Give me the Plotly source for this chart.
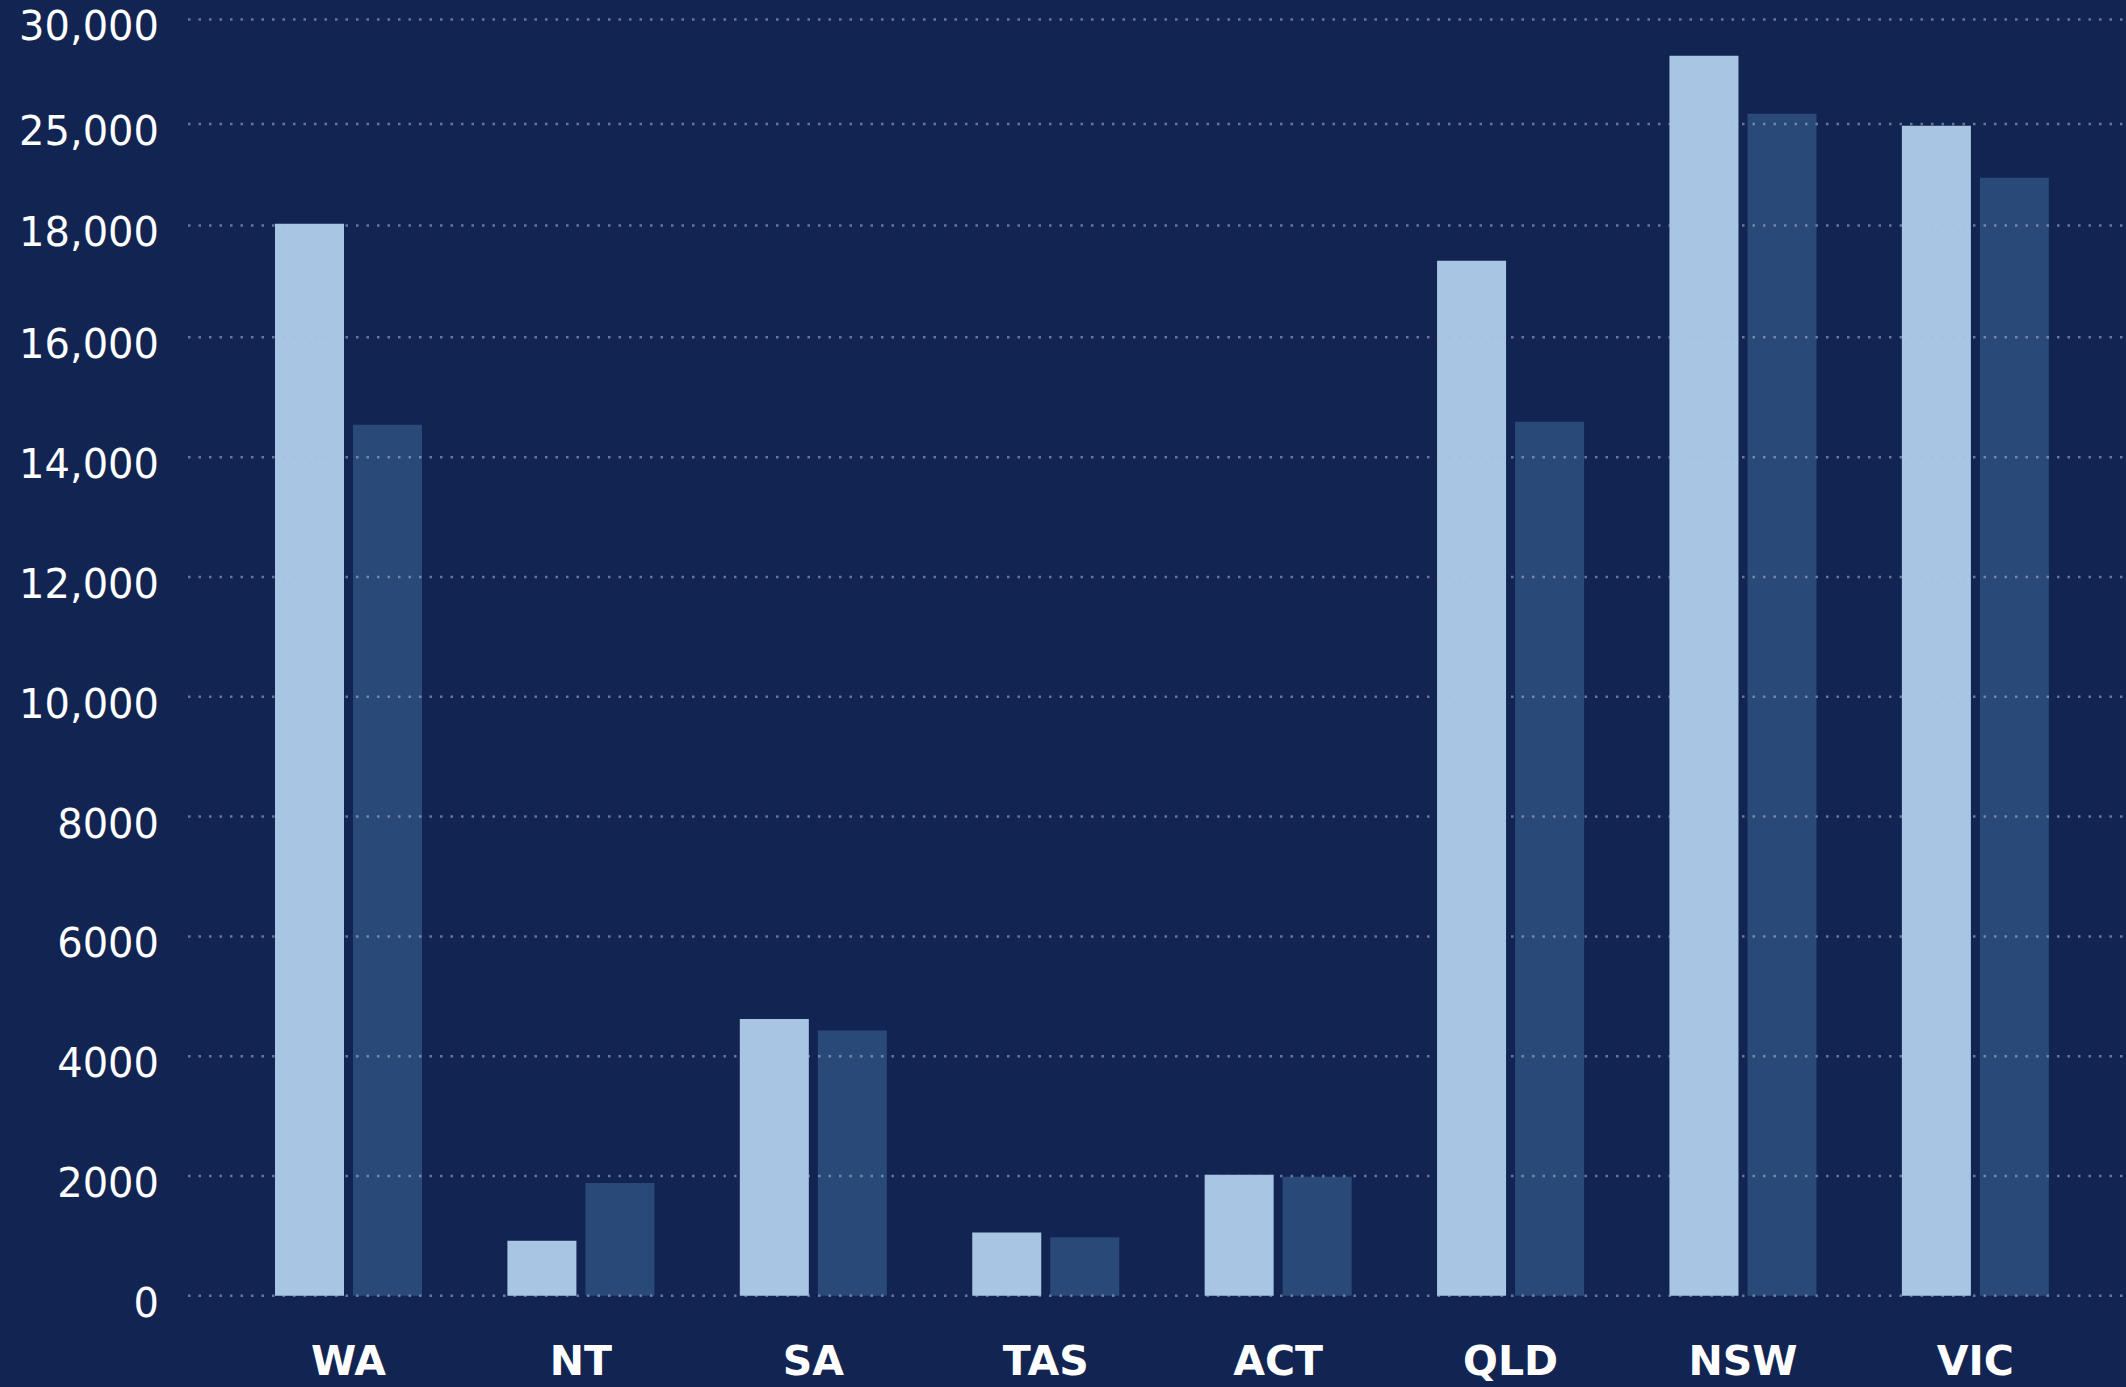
import plotly.graph_objects as go

# ---- data ----
states = ["WA", "NT", "SA", "TAS", "ACT", "QLD", "NSW", "VIC"]
series_a = [17898, 919, 4621, 1057, 2021, 17279, 20702, 19534]   # light bars
series_b = [14543, 1884, 4431, 976, 1988, 14593, 19734, 18666]   # dark bars
tick_vals = [0, 2000, 4000, 6000, 8000, 10000, 12000, 14000, 16000, 17868, 19562, 21308]
tick_text = ["0", "2000", "4000", "6000", "8000", "10,000", "12,000", "14,000",
             "16,000", "18,000", "25,000", "30,000"]

BG = "#122552"
LIGHT = "#A8C6E4"
DARK = "#294978"
GRID = "rgba(175,188,212,0.55)"

fig = go.Figure()
fig.add_trace(go.Bar(x=states, y=series_a, marker=dict(color=LIGHT, line=dict(width=0)),
                     name="A", showlegend=False))
fig.add_trace(go.Bar(x=states, y=series_b, marker=dict(color=DARK, line=dict(width=0)),
                     name="B", showlegend=False))

for v in tick_vals:
    fig.add_shape(type="line", xref="paper", x0=0, x1=1, yref="y", y0=v, y1=v,
                  line=dict(color=GRID, width=2.5, dash="2.5px,8px"), layer="above")

fig.update_layout(
    width=2126, height=1387,
    paper_bgcolor=BG, plot_bgcolor=BG,
    margin=dict(l=188, r=0, t=0, b=84, autoexpand=False),
    barmode="group", bargap=0.3287, bargroupgap=0.1154,
    xaxis=dict(range=[-0.6906, 7.648], showgrid=False, zeroline=False, showline=False,
               automargin=False,
               ticks="", ticklabelstandoff=30, ticklabeloverflow="allow",
               tickfont=dict(family="DejaVu Sans", size=41, color="white", weight="bold")),
    yaxis=dict(range=[-120, 21632], showgrid=False, zeroline=False, showline=False,
               automargin=False,
               tickmode="array", tickvals=tick_vals, ticktext=tick_text,
               ticks="", ticklabelstandoff=28, ticklabelshift=7, ticklabeloverflow="allow",
               tickfont=dict(family="DejaVu Sans", size=40, color="white")),
)

fig.write_html(
    "out.html",
    config={"displayModeBar": False},
    post_script="document.body.style.margin='0';document.body.style.background='#122552';"
                "document.body.style.overflow='hidden';",
)
